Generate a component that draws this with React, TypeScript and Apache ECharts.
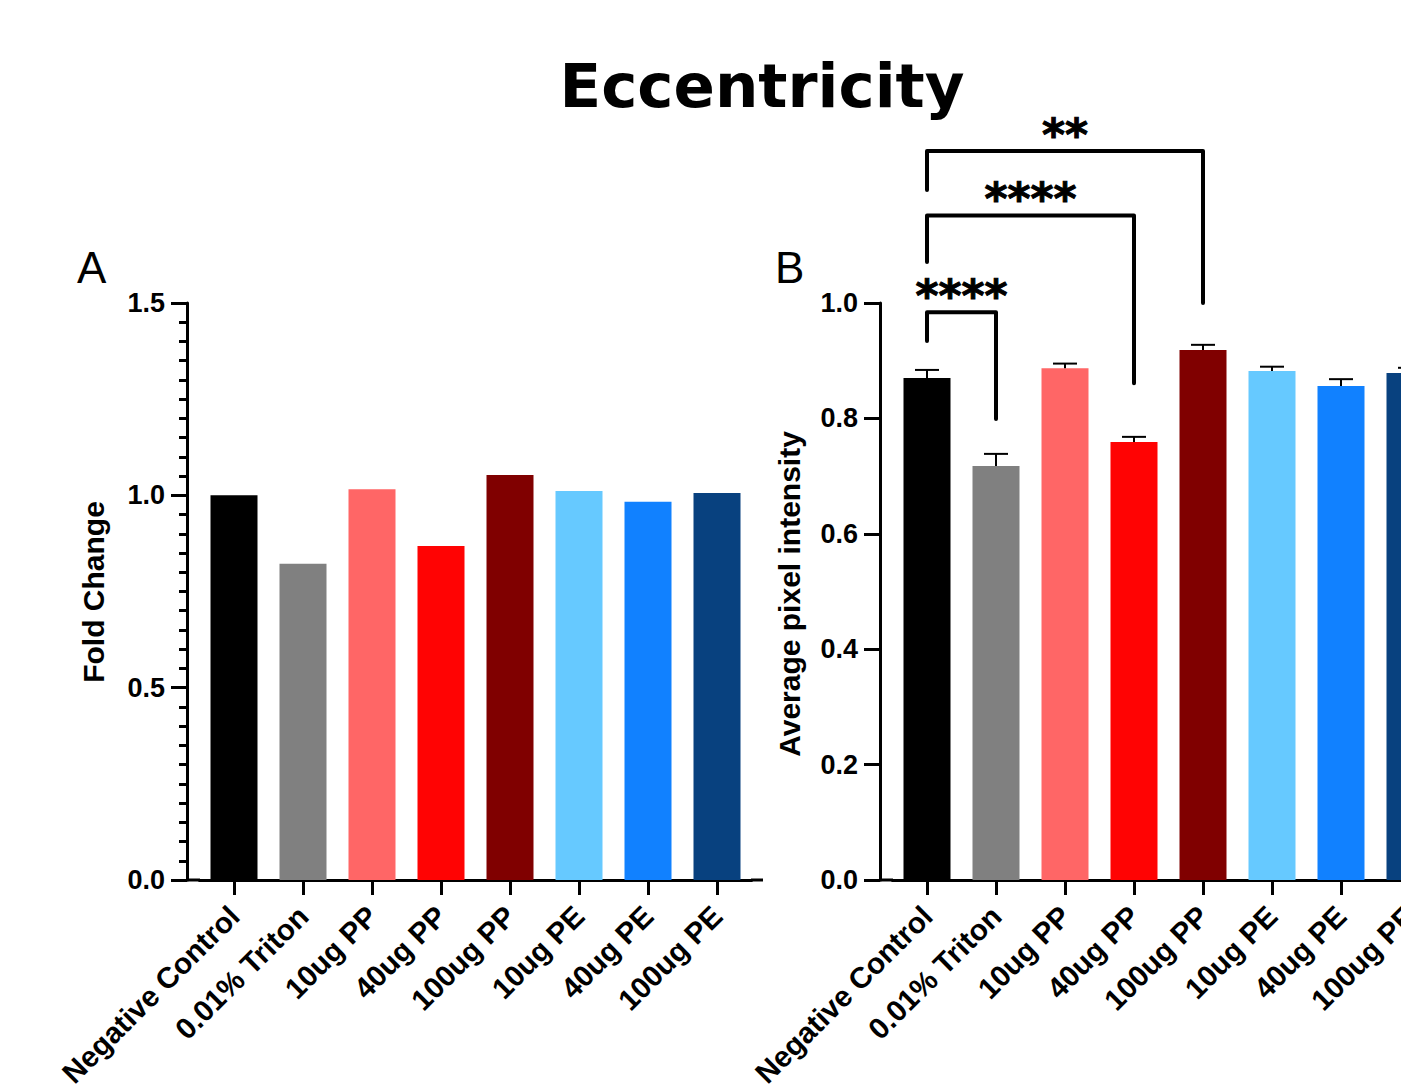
import React, { useEffect, useRef } from 'react';
import * as echarts from 'echarts';

const categories = ['Negative Control', '0.01% Triton', '10ug PP', '40ug PP', '100ug PP', '10ug PE', '40ug PE', '100ug PE'];
const barColors = ['#000000', '#808080', '#FF6666', '#FF0303', '#800000', '#66C9FF', '#1181FF', '#08417F'];

// Panel A: fold change
const foldChange = [1.0, 0.822, 1.016, 0.868, 1.053, 1.011, 0.983, 1.006];

// Panel B: average pixel intensity (mean + upper SEM)
const avgIntensity = [0.870, 0.7175, 0.887, 0.759, 0.9185, 0.882, 0.856, 0.8787];
const avgError = [0.014, 0.021, 0.008, 0.009, 0.009, 0.0076, 0.012, 0.009];

// Significance brackets on panel B
const sigFrom = [0, 0, 0];
const sigTo = [1, 3, 4];
const sigTop = [0.984, 1.1516, 1.2634];
const sigLeftEnd = [0.934, 1.071, 1.1958];
const sigRightEnd = [0.799, 0.861, 1.0];
const sigLabelY = [1.0303, 1.1976, 1.3085];
const sigLabels = ['****', '****', '**'];

const FONT = 'Liberation Sans';

function xAxisCfg(gridIndex: number) {
  return {
    type: 'category',
    gridIndex,
    data: categories,
    boundaryGap: true,
    axisLine: { show: true, lineStyle: { color: '#000', width: 3 } },
    axisTick: { show: true, alignWithLabel: true, length: 15, lineStyle: { color: '#000', width: 3 } },
    axisLabel: {
      rotate: 45,
      interval: 0,
      margin: 31,
      fontSize: 29.5,
      fontWeight: 'bold',
      fontFamily: FONT,
      color: '#000',
    },
    splitLine: { show: false },
  };
}

function yAxisCfg(gridIndex: number, max: number, interval: number, minor: boolean) {
  return {
    type: 'value',
    gridIndex,
    min: 0,
    max,
    interval,
    offset: 12.5,
    axisLine: { show: true, lineStyle: { color: '#000', width: 3 } },
    axisTick: { show: true, length: 16, lineStyle: { color: '#000', width: 3 } },
    minorTick: { show: minor, splitNumber: 10, length: 8, lineStyle: { color: '#000', width: 3 } },
    splitLine: { show: false },
    minorSplitLine: { show: false },
    axisLabel: {
      formatter: (v: number) => v.toFixed(1),
      margin: 22,
      fontSize: 27,
      fontWeight: 'bold',
      fontFamily: FONT,
      color: '#000',
    },
  };
}

export default function App() {
  const ref = useRef<HTMLDivElement>(null);

  useEffect(() => {
    if (!ref.current) return;
    const chart = echarts.init(ref.current, undefined, { renderer: 'svg' });

    const option: any = {
      animation: false,
      backgroundColor: '#fff',
      grid: [
        { left: 199.5, top: 303, width: 552, height: 577, outerBoundsMode: 'none', containLabel: false },
        { left: 892.5, top: 303, width: 552, height: 577, outerBoundsMode: 'none', containLabel: false },
      ],
      xAxis: [xAxisCfg(0), xAxisCfg(1)],
      yAxis: [yAxisCfg(0, 1.5, 0.5, true), yAxisCfg(1, 1.0, 0.2, false)],
      series: [
        {
          type: 'bar',
          xAxisIndex: 0,
          yAxisIndex: 0,
          barWidth: 47,
          data: foldChange.map((v, i) => ({ value: v, itemStyle: { color: barColors[i] } })),
        },
        {
          type: 'bar',
          xAxisIndex: 1,
          yAxisIndex: 1,
          barWidth: 47,
          data: avgIntensity.map((v, i) => ({ value: v, itemStyle: { color: barColors[i] } })),
        },
        {
          type: 'custom',
          xAxisIndex: 1,
          yAxisIndex: 1,
          z: 5,
          silent: true,
          encode: { x: 0, y: 1 },
          data: avgIntensity.map((v, i) => [i, v, avgError[i]]),
          renderItem: (params: any, api: any) => {
            const x = api.value(0);
            const v = api.value(1);
            const e = api.value(2);
            const base = api.coord([x, v]);
            const top = api.coord([x, v + e]);
            return {
              type: 'group',
              children: [
                { type: 'line', shape: { x1: base[0], y1: base[1], x2: top[0], y2: top[1] }, style: { stroke: '#000', lineWidth: 2 } },
                { type: 'line', shape: { x1: top[0] - 12, y1: top[1], x2: top[0] + 12, y2: top[1] }, style: { stroke: '#000', lineWidth: 2 } },
              ],
            };
          },
        },
        {
          type: 'custom',
          xAxisIndex: 1,
          yAxisIndex: 1,
          z: 6,
          silent: true,
          clip: false,
          encode: { x: 0, y: 2 },
          data: sigFrom.map((f, i) => [f, sigTo[i], sigTop[i], sigLeftEnd[i], sigRightEnd[i], sigLabelY[i]]),
          renderItem: (params: any, api: any) => {
            const f = api.value(0);
            const t = api.value(1);
            const top = api.value(2);
            const le = api.value(3);
            const re = api.value(4);
            const ly = api.value(5);
            const p1 = api.coord([f, le]);
            const p2 = api.coord([f, top]);
            const p3 = api.coord([t, top]);
            const p4 = api.coord([t, re]);
            const pl = api.coord([f, ly]);
            const mid = (p2[0] + p3[0]) / 2;
            return {
              type: 'group',
              children: [
                {
                  type: 'polyline',
                  shape: { points: [p1, p2, p3, p4] },
                  style: { stroke: '#000', lineWidth: 4, fill: null, lineJoin: 'round', lineCap: 'round' },
                },
                {
                  type: 'text',
                  x: mid,
                  y: pl[1] + 10,
                  style: {
                    text: sigLabels[params.dataIndex],
                    fontSize: 44,
                    fontWeight: 'bold',
                    fontFamily: 'DejaVu Sans',
                    fill: '#000',
                    stroke: '#000',
                    lineWidth: 1,
                    align: 'center',
                    verticalAlign: 'middle',
                  },
                },
              ],
            };
          },
        },
      ],
      graphic: [
        {
          type: 'text',
          x: 762,
          y: 85,
          style: { text: 'Eccentricity', fontSize: 61, fontWeight: 'bold', fontFamily: 'DejaVu Sans', fill: '#000', align: 'center', verticalAlign: 'middle' },
        },
        {
          type: 'text',
          x: 77,
          y: 267,
          style: { text: 'A', fontSize: 44, fontFamily: FONT, fill: '#000', align: 'left', verticalAlign: 'middle' },
        },
        {
          type: 'text',
          x: 775,
          y: 267,
          style: { text: 'B', fontSize: 44, fontFamily: FONT, fill: '#000', align: 'left', verticalAlign: 'middle' },
        },
        {
          type: 'text',
          x: 93,
          y: 592,
          rotation: Math.PI / 2,
          style: { text: 'Fold Change', fontSize: 30, fontWeight: 'bold', fontFamily: FONT, fill: '#000', align: 'center', verticalAlign: 'middle' },
        },
        {
          type: 'text',
          x: 789,
          y: 594,
          rotation: Math.PI / 2,
          style: { text: 'Average pixel intensity', fontSize: 30, fontWeight: 'bold', fontFamily: FONT, fill: '#000', align: 'center', verticalAlign: 'middle' },
        },
        { type: 'line', shape: { x1: 187, y1: 880, x2: 200, y2: 880 }, style: { stroke: '#000', lineWidth: 3 } },
        { type: 'line', shape: { x1: 751, y1: 880, x2: 763, y2: 880 }, style: { stroke: '#000', lineWidth: 3 } },
        { type: 'line', shape: { x1: 880, y1: 880, x2: 893, y2: 880 }, style: { stroke: '#000', lineWidth: 3 } },
      ],
    };

    chart.setOption(option);
    return () => chart.dispose();
  }, []);

  return (
    <div style={{ position: 'absolute', left: 0, top: 0, width: 1401, height: 1087, overflow: 'hidden', background: '#fff' }}>
      <div ref={ref} style={{ position: 'absolute', left: 0, top: 0, width: 1480, height: 1087 }} />
    </div>
  );
}
